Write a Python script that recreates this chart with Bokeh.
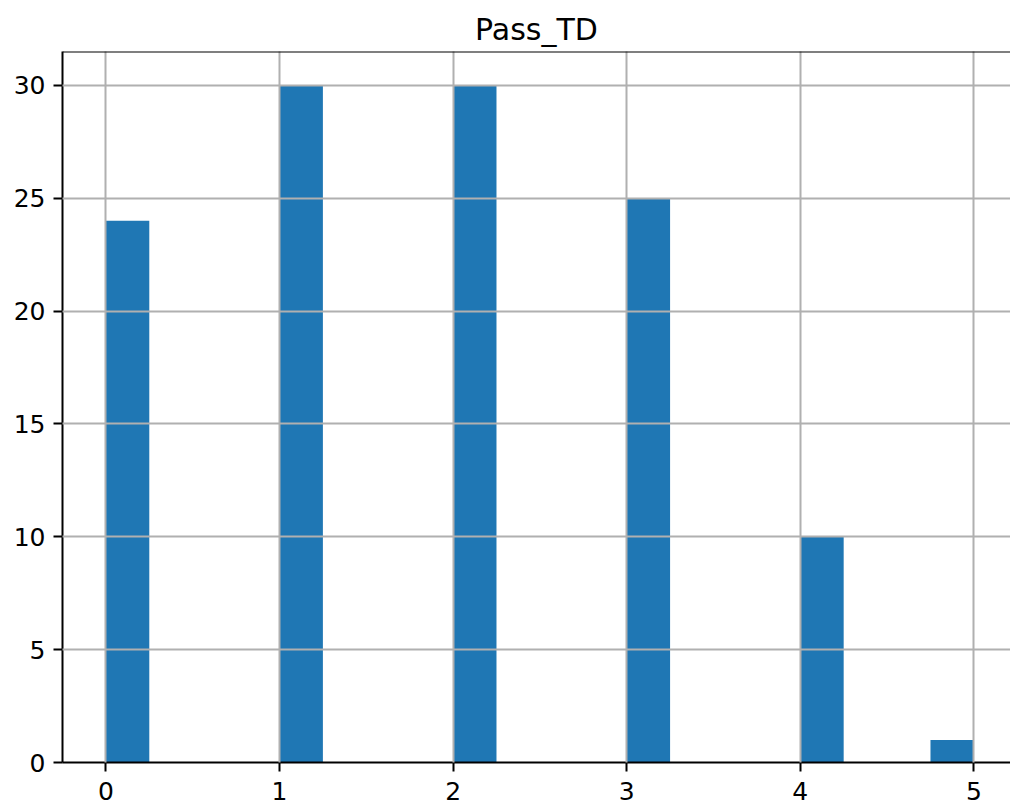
import numpy as np
from bokeh.plotting import figure
from bokeh.models import Range1d, FixedTicker, Span
from bokeh.embed import file_html
from bokeh.resources import INLINE

# Data: Pass_TD values and how many times each occurs
pass_td = [0, 1, 2, 3, 4, 5]
counts = [24, 30, 30, 25, 10, 1]
n_bins = 20
x_ticks = [0, 1, 2, 3, 4, 5]
y_ticks = [0, 5, 10, 15, 20, 25, 30]

# histogram bins (as pandas .hist with 20 bins)
lo, hi = min(pass_td), max(pass_td)
edges = np.linspace(lo, hi, n_bins + 1)
idx = [min(int((v - lo) / (hi - lo) * n_bins), n_bins - 1) for v in pass_td]
left = [edges[i] for i in idx]
right = [edges[i + 1] for i in idx]

FONT = "DejaVu Sans"
BLUE = "#1f77b4"

p = figure(width=1010, height=812, output_backend="svg", toolbar_location=None,
           x_range=Range1d(-0.25, 5.211), y_range=Range1d(0, 31.5),
           min_border_left=62, min_border_right=0, min_border_top=51, min_border_bottom=50,
           title="Pass_TD")

p.quad(left=left, right=right, bottom=0, top=counts, fill_color=BLUE, line_color=None)

p.title.text_font = FONT
p.title.text_font_size = "30px"
p.title.text_font_style = "normal"
p.title.align = "center"
p.title.text_color = "#000000"

for ax in (p.xaxis[0], p.yaxis[0]):
    ax.axis_line_color = "black"
    ax.axis_line_width = 2
    ax.major_tick_line_color = "black"
    ax.major_tick_line_width = 2
    ax.major_tick_out = 9
    ax.major_tick_in = 0
    ax.minor_tick_line_color = None
    ax.major_label_text_font = FONT
    ax.major_label_text_font_size = "25px"
    ax.major_label_text_color = "#000000"

p.xaxis[0].ticker = FixedTicker(ticks=x_ticks)
p.yaxis[0].ticker = FixedTicker(ticks=y_ticks)
p.xaxis[0].major_label_standoff = 10
p.yaxis[0].major_label_standoff = 8

for g in (p.xgrid[0], p.ygrid[0]):
    g.grid_line_color = "#b0b0b0"
    g.grid_line_width = 2
    g.level = "annotation"
p.xgrid[0].ticker = FixedTicker(ticks=x_ticks)
p.ygrid[0].ticker = FixedTicker(ticks=y_ticks)

p.outline_line_color = None
p.add_layout(Span(location=31.5, dimension="width", line_color="black", line_width=2))
p.background_fill_color = "white"
p.border_fill_color = "white"

open("out.html", "w").write(file_html(p, INLINE))
